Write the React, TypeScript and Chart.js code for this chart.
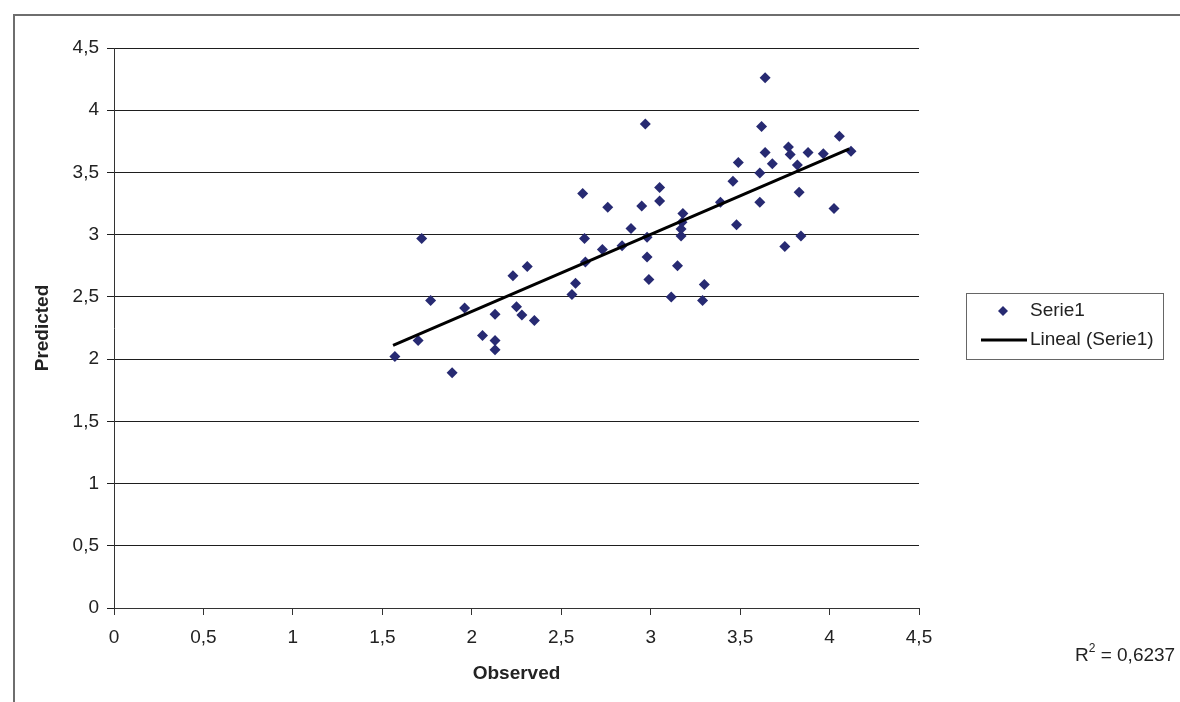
import React, { useEffect, useRef } from 'react';
import { Chart, registerables } from 'chart.js';

Chart.register(...registerables);

// Observed (x) and Predicted (y) values
const observed = [
  1.57, 1.7, 1.72, 1.77, 1.89, 1.96, 2.06, 2.13, 2.13, 2.13,
  2.25, 2.28, 2.35, 2.23, 2.31, 2.58, 2.56, 2.62, 2.63, 2.635,
  2.73, 2.76, 2.84, 2.89, 2.95, 2.97, 2.98, 2.98, 2.99, 3.05,
  3.05, 3.115, 3.15, 3.17, 3.17, 3.175, 3.18, 3.29, 3.3, 3.39,
  3.46, 3.48, 3.49, 3.61, 3.61, 3.62, 3.64, 3.64, 3.68, 3.75,
  3.77, 3.78, 3.82, 3.83, 3.84, 3.88, 3.965, 4.025, 4.055, 4.12,
];
const predicted = [
  2.02, 2.15, 2.97, 2.47, 1.89, 2.41, 2.19, 2.15, 2.075, 2.36,
  2.42, 2.355, 2.31, 2.67, 2.745, 2.61, 2.52, 3.33, 2.97, 2.78,
  2.88, 3.22, 2.91, 3.05, 3.23, 3.89, 2.98, 2.82, 2.64, 3.38,
  3.27, 2.5, 2.75, 2.99, 3.045, 3.1, 3.17, 2.47, 2.6, 3.26,
  3.43, 3.08, 3.58, 3.495, 3.26, 3.87, 4.26, 3.66, 3.57, 2.905,
  3.705, 3.645, 3.56, 3.34, 2.99, 3.66, 3.65, 3.21, 3.79, 3.67,
];

// Linear trendline end points
const trendObserved = [1.56, 4.11];
const trendPredicted = [2.11, 3.69];

const seriesName = 'Serie1';
const trendName = 'Lineal (Serie1)';
const r2Value = '0,6237';
const xTitle = 'Observed';
const yTitle = 'Predicted';
const axisMin = 0;
const axisMax = 4.5;
const axisStep = 0.5;

const FONT = '"Liberation Sans", Arial, sans-serif';
const POINT_COLOR = '#272a72';
const TEXT_COLOR = '#222222';

const fmt = (v: number | string) => String(v).replace('.', ',');

export default function App() {
  const ref = useRef<HTMLCanvasElement>(null);

  useEffect(() => {
    const canvas = ref.current;
    if (!canvas) return;

    const decoration = {
      id: 'decoration',
      beforeDraw(chart: any) {
        const ctx = chart.ctx;
        ctx.save();
        ctx.fillStyle = '#ffffff';
        ctx.fillRect(0, 0, chart.width, chart.height);
        ctx.strokeStyle = '#6e6e6e';
        ctx.lineWidth = 2;
        ctx.strokeRect(14, 15, 1200, 720);
        ctx.restore();
      },
      afterDraw(chart: any) {
        const ctx = chart.ctx;
        ctx.save();
        // legend box
        const bx = 966, by = 293, bw = 197, bh = 66;
        ctx.fillStyle = '#ffffff';
        ctx.fillRect(bx, by, bw, bh);
        ctx.strokeStyle = '#666666';
        ctx.lineWidth = 1;
        ctx.strokeRect(bx + 0.5, by + 0.5, bw, bh);
        const row1 = 311, row2 = 340;
        // marker
        ctx.fillStyle = POINT_COLOR;
        ctx.beginPath();
        ctx.moveTo(1003, row1 - 5);
        ctx.lineTo(1008, row1);
        ctx.lineTo(1003, row1 + 5);
        ctx.lineTo(998, row1);
        ctx.closePath();
        ctx.fill();
        // line
        ctx.strokeStyle = '#000000';
        ctx.lineWidth = 3;
        ctx.beginPath();
        ctx.moveTo(981, row2);
        ctx.lineTo(1027, row2);
        ctx.stroke();
        ctx.fillStyle = TEXT_COLOR;
        ctx.font = `19px ${FONT}`;
        ctx.textBaseline = 'middle';
        ctx.textAlign = 'left';
        ctx.fillText(seriesName, 1030, row1);
        ctx.fillText(trendName, 1030, row2);
        // R squared
        let x = 1075;
        const ry = 656;
        ctx.fillText('R', x, ry);
        x += ctx.measureText('R').width;
        ctx.font = `12px ${FONT}`;
        ctx.fillText('2', x, ry - 7);
        x += ctx.measureText('2').width;
        ctx.font = `19px ${FONT}`;
        ctx.fillText(' = ' + r2Value, x, ry);
        ctx.restore();
      },
    };

    const chart = new Chart(canvas, {
      type: 'scatter',
      data: {
        datasets: [
          {
            label: trendName,
            data: trendObserved.map((x, i) => ({ x, y: trendPredicted[i] })),
            showLine: true,
            borderColor: '#000000',
            borderWidth: 3,
            pointRadius: 0,
            fill: false,
            order: 0,
          },
          {
            label: seriesName,
            data: observed.map((x, i) => ({ x, y: predicted[i] })),
            pointStyle: 'rectRot',
            pointRadius: 5.5,
            pointHoverRadius: 5.5,
            backgroundColor: POINT_COLOR,
            borderColor: POINT_COLOR,
            borderWidth: 0,
            order: 1,
          },
        ],
      },
      options: {
        responsive: false,
        animation: false,
        layout: { padding: { left: 0, top: 48, right: 261, bottom: 0 } },
        plugins: {
          legend: { display: false },
          tooltip: { enabled: false },
        },
        scales: {
          x: {
            type: 'linear',
            min: axisMin,
            max: axisMax,
            ticks: {
              stepSize: axisStep,
              callback: (v: any) => fmt(v),
              font: { family: FONT, size: 19 },
              color: TEXT_COLOR,
              padding: 11,
              maxRotation: 0,
            },
            grid: { drawOnChartArea: false, drawTicks: true, tickLength: 7, color: '#333333' },
            border: { color: '#333333', width: 1 },
            title: {
              display: true,
              text: xTitle,
              color: TEXT_COLOR,
              font: { family: FONT, size: 19, weight: 'bold' },
              padding: { top: 0, bottom: 17 },
            },
            afterFit: (s: any) => {
              s.height = 94;
            },
          },
          y: {
            type: 'linear',
            min: axisMin,
            max: axisMax,
            ticks: {
              stepSize: axisStep,
              callback: (v: any) => fmt(v),
              font: { family: FONT, size: 19 },
              color: TEXT_COLOR,
              padding: 8,
            },
            grid: { color: '#1e1e1e', tickLength: 7, lineWidth: 1 },
            border: { color: '#333333', width: 1 },
            title: {
              display: true,
              text: yTitle,
              color: TEXT_COLOR,
              font: { family: FONT, size: 19, weight: 'bold' },
              padding: { top: 31, bottom: 0 },
            },
            afterFit: (s: any) => {
              s.width = 114;
            },
          },
        },
      },
      plugins: [decoration],
    } as any);

    return () => chart.destroy();
  }, []);

  return (
    <div style={{ position: 'absolute', left: 0, top: 0, width: 1180, height: 702 }}>
      <canvas ref={ref} width={1180} height={702} style={{ width: 1180, height: 702, display: 'block' }} />
    </div>
  );
}
